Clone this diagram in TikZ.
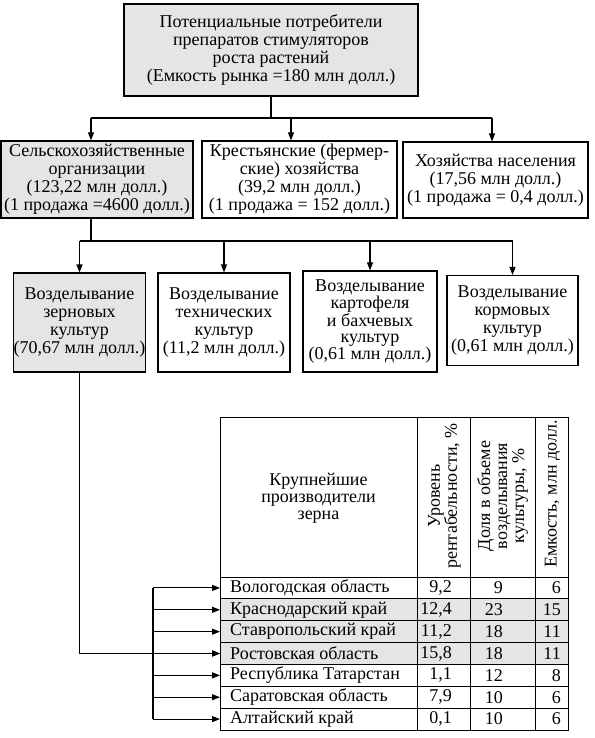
\documentclass[tikz,border=0pt]{standalone}
\usepackage{fontspec}
\setmainfont{Liberation Serif}
\usetikzlibrary{arrows.meta,calc}
\begin{document}
\begin{tikzpicture}[x=1pt,y=-1pt,
  txt/.style={font=\fontsize{18}{18}\selectfont},
  box/.style={txt,draw,line width=1.1pt,align=center,inner sep=0pt},
  grey/.style={fill=black!10},
  line/.style={line width=1.1pt},
  arr/.style={line width=1.1pt,-{Triangle[length=8pt,width=6pt]}},
  namecell/.style={txt,anchor=west,inner xsep=10pt,inner ysep=0pt},
  num/.style={txt,anchor=east,inner sep=0pt},
  head/.style={font=\fontsize{18}{17}\selectfont,align=center,inner sep=0pt}
]
\useasboundingbox (0,0) rectangle (594,738);

% top
\node[box,grey,minimum width=294pt,minimum height=92pt] (top) at (271,50)
  {Потенциальные потребители\\препаратов стимуляторов\\роста растений\\(Емкость рынка =180 млн долл.)};

% row 2
\node[box,grey,minimum width=192pt,minimum height=77pt] (s1) at (97,179.5)
  {Сельскохозяйственные\\организации\\(123,22 млн долл.)\\(1 продажа =4600 долл.)};
\node[box,minimum width=195pt,minimum height=77pt] (s2) at (299.5,179.5)
  {Крестьянские (фермер-\\ские) хозяйства\\(39,2 млн долл.)\\(1 продажа = 152 долл.)};
\node[box,minimum width=185pt,minimum height=76pt] (s3) at (495.5,180)
  {Хозяйства населения\\(17,56 млн долл.)\\(1 продажа = 0,4 долл.)};

\coordinate (bL) at (91,118);
\coordinate (bM) at (291,118);
\coordinate (bR) at (492,118);
\draw[line] (top.south) -- (top.south |- bL);
\draw[line] (bL) -- (bR);
\draw[arr] (bL) -- (bL |- s1.north);
\draw[arr] (bM) -- (bM |- s2.north);
\draw[arr] (bR) -- (bR |- s3.north);

% row 3
\node[box,grey,minimum width=131pt,minimum height=99pt] (c1) at (79.5,322.5)
  {Возделывание\\зерновых\\культур\\(70,67 млн долл.)};
\node[box,minimum width=132pt,minimum height=99pt] (c2) at (224,322.5)
  {Возделывание\\технических\\культур\\(11,2 млн долл.)};
\node[box,minimum width=134pt,minimum height=101pt,font=\fontsize{18}{16.5}\selectfont] (c3) at (370,321.5)
  {Возделывание\\картофеля\\и бахчевых\\культур\\(0,61 млн долл.)};
\node[box,minimum width=131pt,minimum height=90pt] (c4) at (512.5,320.5)
  {Возделывание\\кормовых\\культур\\(0,61 млн долл.)};

\coordinate (dJ) at (91,241);
\coordinate (dL) at (79.5,241);
\coordinate (dR) at (512.5,241);
\draw[line] (dJ |- s1.south) -- (dJ);
\draw[line] (dL) -- (dR);
\foreach \c in {c1,c2,c3,c4}
  \draw[arr] (\c.north |- dL) -- (\c.north);

% table
\fill[grey] (220,598.86) rectangle (568,664.43);
\draw[line width=1pt] (220,417) rectangle (568,730);
\foreach \y in {577,598.86,620.71,642.57,664.43,686.29,708.14}
  \draw[line width=1pt] (220,\y) -- (568,\y);
\foreach \x in {417,470,535}
  \draw[line width=1pt] (\x,417) -- (\x,730);

\node[head] (h0) at (318.5,498) {Крупнейшие\\производители\\зерна};
\node[head,rotate=90] (h1) at (444.5,496) {Уровень\\рентабельности, \%};
\node[head,rotate=90] (h2) at (502.5,496) {Доля в объеме\\возделывания\\культуры, \%};
\node[head,rotate=90] (h3) at (552.5,494) {Емкость, млн долл.};

\foreach \i/\n/\a/\b/\cc [count=\k from 0] in {
  1/Вологодская область/{9,2}/9/6,
  2/Краснодарский край/{12,4}/23/15,
  3/Ставропольский край/{11,2}/18/11,
  4/Ростовская область/{15,8}/18/11,
  5/Республика Татарстан/{1,1}/12/8,
  6/Саратовская область/{7,9}/10/6,
  7/Алтайский край/{0,1}/10/6}{
  \pgfmathsetmacro{\yc}{587.93+21.857*\k}
  \node[namecell] (r\i) at (220,\yc) {\n};
  \node[num] (a\i) at (452,\yc) {\a};
  \node[num] (b\i) at (503,\yc) {\b};
  \node[num] (e\i) at (561,\yc) {\cc};
}

% connectors to table
\coordinate (kx) at (153,0);
\draw[line] (kx |- r1.west) -- (kx |- r7.west);
\foreach \i in {1,...,7}
  \draw[arr] (kx |- r\i.west) -- (r\i.west);
\draw[arr] (c1.south) |- (r4.west);
\end{tikzpicture}
\end{document}
